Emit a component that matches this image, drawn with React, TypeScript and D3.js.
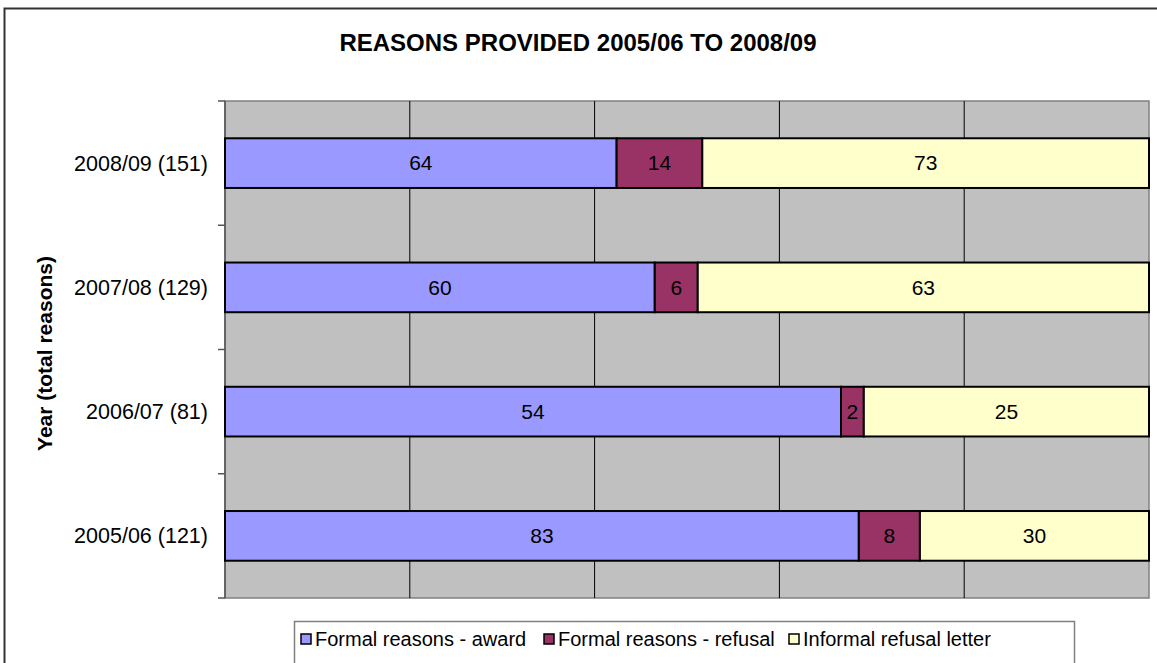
import React from "react";
import * as d3 from "d3";

const categories = ["2008/09 (151)", "2007/08 (129)", "2006/07 (81)", "2005/06 (121)"];
const seriesNames = ["Formal reasons - award", "Formal reasons - refusal", "Informal refusal letter"];
const awardValues = [64, 60, 54, 83];
const refusalValues = [14, 6, 2, 8];
const informalValues = [73, 63, 25, 30];
const seriesColors = ["#9999FF", "#993366", "#FFFFCC"];
const xTicks = [0, 0.2, 0.4, 0.6, 0.8, 1];

const W = 1157;
const H = 663;
const plot = { left: 225, right: 1149, top: 101, bottom: 598 };
const FONT = "'Liberation Sans', Arial, Helvetica, sans-serif";

export default function App() {
  const rows = categories.map((c, i) => ({
    cat: c,
    s0: awardValues[i],
    s1: refusalValues[i],
    s2: informalValues[i],
  }));
  const keys = ["s0", "s1", "s2"];
  const stacked = d3.stack<any>().keys(keys).offset(d3.stackOffsetExpand)(rows);

  const x = d3.scaleLinear().domain([0, 1]).range([plot.left, plot.right]);
  const y = d3
    .scaleBand()
    .domain(categories)
    .range([plot.top, plot.bottom])
    .paddingInner(0.6)
    .paddingOuter(0.3);

  const step = y.step();
  const boundaries = d3.range(categories.length + 1).map((i) => plot.top + i * step);

  const legendX = [298, 541, 786];

  return (
    <div style={{ position: "absolute", left: 0, top: 0 }}>
      <svg width={W} height={H} style={{ display: "block", fontFamily: FONT }}>
        <rect x={0} y={0} width={W} height={H} fill="#ffffff" />
        <rect x={4.5} y={8.5} width={W + 20} height={H + 20} fill="none" stroke="#333333" strokeWidth={2} />
        <text x={578} y={51} textAnchor="middle" fontSize={24} fontWeight="bold" fill="#000">
          REASONS PROVIDED 2005/06 TO 2008/09
        </text>

        {/* plot background */}
        <rect
          x={plot.left}
          y={plot.top}
          width={plot.right - plot.left}
          height={plot.bottom - plot.top}
          fill="#C0C0C0"
          stroke="#808080"
          strokeWidth={1.5}
        />
        {/* vertical gridlines */}
        {xTicks.slice(1, -1).map((t) => (
          <line key={t} x1={x(t)} x2={x(t)} y1={plot.top} y2={plot.bottom} stroke="#000" strokeWidth={1} />
        ))}
        {/* left axis */}
        <line x1={plot.left} x2={plot.left} y1={plot.top} y2={plot.bottom} stroke="#555" strokeWidth={1.5} />
        {boundaries.map((b, i) => (
          <line key={i} x1={plot.left - 7} x2={plot.left} y1={b} y2={b} stroke="#555" strokeWidth={1.5} />
        ))}

        {/* bars */}
        {stacked.map((layer, si) =>
          layer.map((d, i) => {
            const x0 = x(d[0]);
            const x1 = x(d[1]);
            const yy = y(categories[i])!;
            const value = [awardValues, refusalValues, informalValues][si][i];
            return (
              <g key={`${si}-${i}`}>
                <rect
                  x={x0}
                  y={yy}
                  width={x1 - x0}
                  height={y.bandwidth()}
                  fill={seriesColors[si]}
                  stroke="#000"
                  strokeWidth={2}
                />
                <text
                  x={(x0 + x1) / 2}
                  y={yy + y.bandwidth() / 2}
                  dy="0.35em"
                  textAnchor="middle"
                  fontSize={21}
                  fill="#000"
                >
                  {value}
                </text>
              </g>
            );
          })
        )}

        {/* category labels */}
        {categories.map((c) => (
          <text
            key={c}
            x={208}
            y={y(c)! + y.bandwidth() / 2}
            dy="0.35em"
            textAnchor="end"
            fontSize={21.5}
            fill="#000"
          >
            {c}
          </text>
        ))}

        {/* y axis title */}
        <text
          transform={`translate(52, ${(plot.top + plot.bottom) / 2 + 4}) rotate(-90)`}
          textAnchor="middle"
          fontSize={21}
          fontWeight="bold"
          fill="#000"
        >
          Year (total reasons)
        </text>

        {/* legend */}
        <rect x={294.5} y={621.5} width={780} height={60} fill="#fff" stroke="#808080" strokeWidth={1.5} />
        {seriesNames.map((n, i) => (
          <g key={n}>
            <rect x={legendX[i] + 3} y={634} width={10} height={10} fill={seriesColors[i]} stroke="#000" strokeWidth={1.5} />
            <text x={legendX[i] + 17} y={639} dy="0.35em" fontSize={20} fill="#000">
              {n}
            </text>
          </g>
        ))}
      </svg>
    </div>
  );
}
